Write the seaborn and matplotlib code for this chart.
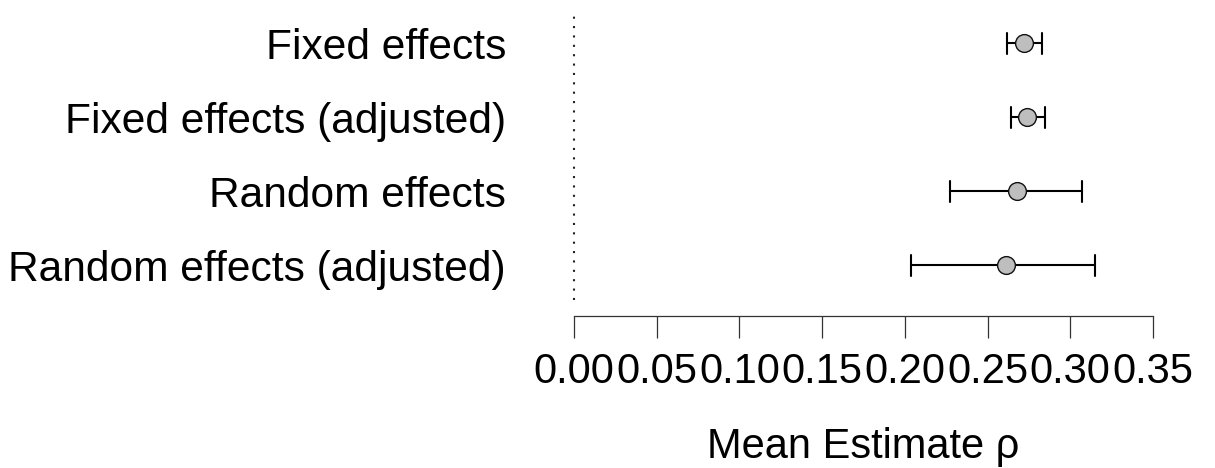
import pandas as pd
import matplotlib
matplotlib.use('Agg')
import matplotlib.pyplot as plt
import seaborn as sns

labels = ['Fixed effects', 'Fixed effects (adjusted)', 'Random effects', 'Random effects (adjusted)']
means = [0.272, 0.274, 0.268, 0.261]
lower = [0.262, 0.264, 0.227, 0.204]
upper = [0.283, 0.285, 0.307, 0.315]
xticks = [0.00, 0.05, 0.10, 0.15, 0.20, 0.25, 0.30, 0.35]

# three rows per model: median = estimate, min/max = CI ends
rows = []
for lab, lo, m, hi in zip(labels, lower, means, upper):
    for v in (lo, m, hi):
        rows.append({'model': lab, 'rho': v})
df = pd.DataFrame(rows)

sns.set_style('ticks')
plt.rcParams['font.family'] = ['Liberation Sans', 'DejaVu Sans']
plt.rcParams['text.color'] = 'black'
plt.rcParams['axes.labelcolor'] = 'black'
plt.rcParams['xtick.color'] = 'black'
plt.rcParams['ytick.color'] = 'black'

fig = plt.figure(figsize=(12.15, 4.68), dpi=100)
ax = fig.add_axes([557.5 / 1215, 1 - 300 / 468, 612 / 1215, 290 / 468])

ax.axvline(0, color='#222222', lw=1.5, linestyle=(0, (1, 3.5)), zorder=1)

sns.pointplot(data=df, x='rho', y='model', order=labels, estimator='median',
              errorbar=('pi', 100), capsize=0.284, color='black',
              markerfacecolor='#bebebe', markeredgecolor='#111111',
              markersize=12.8, markeredgewidth=1.0, linestyle='none',
              linewidth=1.5, zorder=3, err_kws={'linewidth': 1.5, 'zorder': 2},
              ax=ax)

ax.set_xlim(-0.01, 0.36)
ax.set_ylim(3.47, -0.45)
ax.set_xticks(xticks)
ax.set_xticklabels([f'{t:.2f}' for t in xticks])

for s in ['top', 'right', 'left']:
    ax.spines[s].set_visible(False)
ax.spines['bottom'].set_position(('outward', 11.5))
ax.spines['bottom'].set_bounds(0, 0.35)
ax.spines['bottom'].set_linewidth(0.9)
ax.spines['bottom'].set_color('#333333')

ax.tick_params(axis='x', length=15.5, width=0.9, pad=10.5, labelsize=30, color='#333333')
ax.tick_params(axis='y', length=0, pad=37, labelsize=30.6)
ax.set_ylabel('')
ax.set_xlabel('Mean Estimate ρ', fontsize=30, labelpad=25)

fig.savefig('out.png', dpi=100)
